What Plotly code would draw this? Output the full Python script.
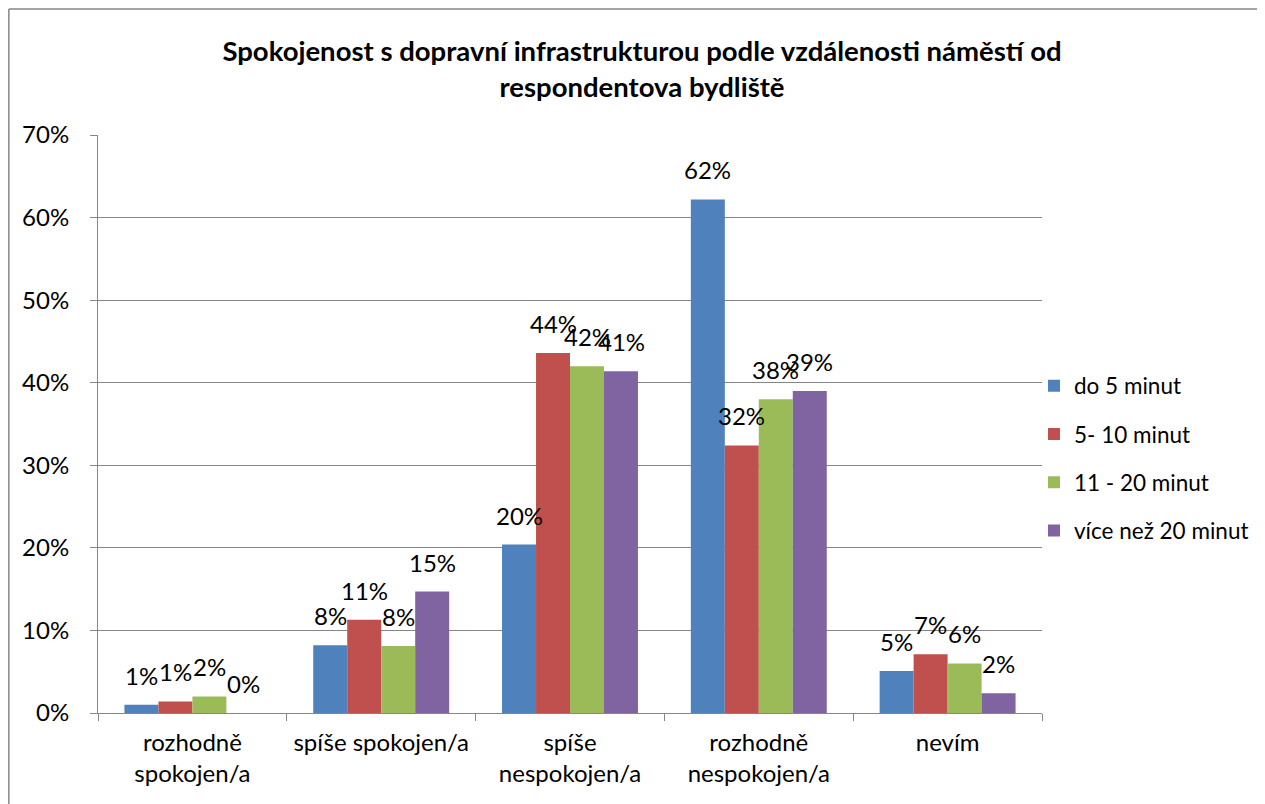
import plotly.graph_objects as go

categories = ["rozhodně<br>spokojen/a", "spíše spokojen/a", "spíše<br>nespokojen/a",
              "rozhodně<br>nespokojen/a", "nevím"]
series_names = ["do 5 minut", "5- 10 minut", "11 - 20 minut", "více než 20 minut"]
do5 = [1.0, 8.2, 20.4, 62.2, 5.1]
m5_10 = [1.4, 11.3, 43.6, 32.4, 7.1]
m11_20 = [2.0, 8.1, 42.0, 38.0, 6.0]
vice20 = [0.0, 14.7, 41.4, 39.0, 2.4]
colors = ["#4F81BD", "#C0504D", "#9BBB59", "#8064A2"]
y_ticks = [0, 10, 20, 30, 40, 50, 60, 70]
y_tick_text = [f"{v}%" for v in y_ticks]

FONT = "Lato, Open Sans, sans-serif"
W, H = 1257, 796
L, T = 90, 127
PW, PH = 945, 578
R, B = W - L - PW, H - T - PH
PB = T + PH  # plot bottom in figure pixels

all_series = [do5, m5_10, m11_20, vice20]
fig = go.Figure()
for i, (name, vals) in enumerate(zip(series_names, all_series)):
    fig.add_trace(go.Bar(
        x=categories, y=vals, name=name,
        marker=dict(color=colors[i], line=dict(width=0)),
        legendgroup=name,
    ))

# data labels (positioned above each bar, offset within the group)
bar_w = 34
for i, vals in enumerate(all_series):
    xs = (i - 1.5) * bar_w
    for c, v in zip(categories, vals):
        fig.add_annotation(x=c, y=v, xref="x", yref="y", text=f"{v:.0f}%",
                           showarrow=False, xshift=xs, yshift=13,
                           xanchor="center", yanchor="bottom",
                           font=dict(size=24, color="#000000", family=FONT))

fig.update_layout(
    width=W, height=H,
    margin=dict(l=L, r=R, t=T, b=B),
    paper_bgcolor="white", plot_bgcolor="white",
    barmode="group", bargap=0.28, bargroupgap=0,
    font=dict(family=FONT, size=24, color="#000000"),
    title=dict(text="<b>Spokojenost s dopravní infrastrukturou podle vzdálenosti náměstí od<br>respondentova bydliště</b>",
               x=634 / W, xanchor="center", y=1 - 53 / H, yanchor="middle",
               font=dict(size=27.5, family=FONT, color="#000000")),
    legend=dict(x=(1026 - L) / PW, xanchor="left", y=(PB - 450) / PH, yanchor="middle",
                font=dict(size=22.5, family=FONT), tracegroupgap=16,
                traceorder="grouped", bgcolor="rgba(0,0,0,0)"),
    showlegend=True,
)
fig.update_yaxes(range=[0, 70], tickvals=y_ticks, ticktext=y_tick_text,
                 showgrid=True, gridcolor="#868686", gridwidth=1,
                 showline=True, linecolor="#868686", linewidth=1,
                 ticks="outside", ticklen=7, tickcolor="#868686",
                 ticklabelstandoff=16,
                 tickfont=dict(size=24), zeroline=False)
fig.update_xaxes(showline=True, linecolor="#868686", linewidth=1,
                 ticks="outside", tickson="boundaries", ticklen=7, tickcolor="#868686",
                 ticklabelstandoff=8,
                 tickfont=dict(size=24))

# chart-area border (top and left edges visible in the reference)
top_y = (PB - 1) / PH
left_x = (0.75 - L) / PW
fig.add_shape(type="line", xref="paper", yref="paper",
              x0=left_x, x1=(W - L) / PW, y0=top_y, y1=top_y,
              line=dict(color="#868686", width=1.5), layer="below")
fig.add_shape(type="line", xref="paper", yref="paper",
              x0=left_x, x1=left_x, y0=-B / PH, y1=top_y,
              line=dict(color="#868686", width=1.5), layer="below")

fig.write_html("out.html")
